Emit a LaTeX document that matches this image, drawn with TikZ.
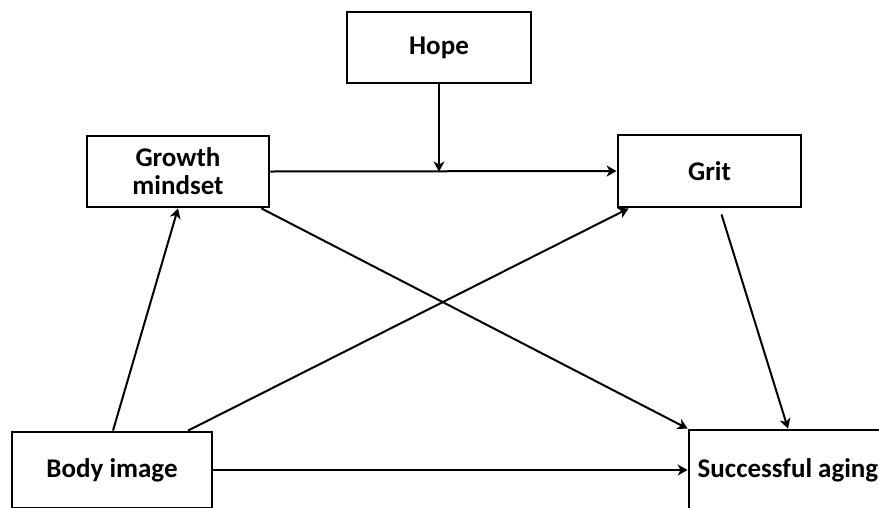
\documentclass[tikz,border=0pt]{standalone}
\usepackage{fontspec}
\setmainfont{Carlito}
\usetikzlibrary{arrows.meta}
\begin{document}
\begin{tikzpicture}[x=1pt, y=-1pt, box/.style={draw, line width=2.8pt, inner sep=0pt, align=center, font=\fontsize{27}{28}\selectfont\bfseries}, link/.style={line width=2pt, -{Stealth[length=10pt, width=11pt, inset=3pt]}}]
\clip (0,0) rectangle (879,507);

\node[box, minimum width=184pt, minimum height=71pt] at (439,47.5)(hope) {Hope};
\node[box, minimum width=182pt, minimum height=71pt] at (178,171.5)(growth) {Growth\\mindset};
\node[box, minimum width=183pt, minimum height=72pt] at (709.5,171)(grit) {Grit};
\node[box, minimum width=200pt, minimum height=76pt] at (112,470)(body) {Body image};
\node[box, minimum width=198pt, minimum height=80pt] at (788,470)(aging) {Successful aging};

\draw[link] (growth.east) -- (grit.west);
\draw[link] (hope.south) -- (hope.south |- growth.east);
\draw[link] ([xshift=1pt]body.north) -- (growth.south);
\draw[link] ([xshift=76pt]body.north) -- ([xshift=12pt]grit.south west);
\draw[link] ([xshift=-9pt]growth.south east) -- (aging.north west);
\draw[link] ([xshift=12pt, yshift=-6pt]grit.south) -- (aging.north);
\draw[link] (body.east) -- (aging.west);
\end{tikzpicture}
\end{document}
